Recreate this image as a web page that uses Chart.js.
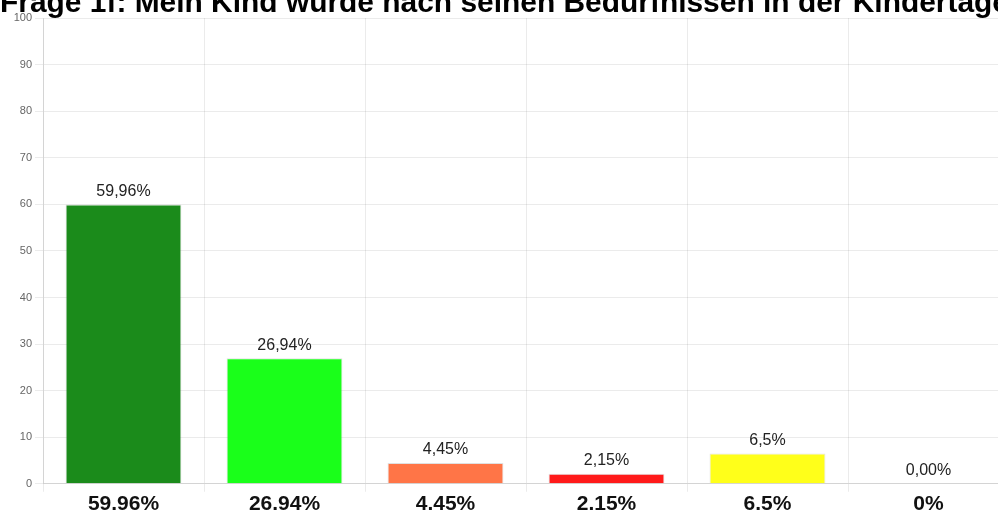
<!DOCTYPE html>
<html>
<head>
<meta charset="utf-8">
<script src="https://cdn.jsdelivr.net/npm/chart.js@4"></script>
<style>
    html, body { margin: 0; padding: 0; overflow: hidden; background: #fff; }
    #wrap { position: absolute; left: 0; top: -15px; width: 1009px; height: 532px; }
</style>
</head>
<body>
<div id="wrap"><canvas id="chart"></canvas></div>
<script>
// chart data
const categories = ['59.96%', '26.94%', '4.45%', '2.15%', '6.5%', '0%'];
const values = [59.96, 26.94, 4.45, 2.15, 6.5, 0];
const valueLabels = ['59,96%', '26,94%', '4,45%', '2,15%', '6,5%', '0,00%'];
const barColors = ['#1b8b1b', '#1aff1a', '#ff7547', '#ff1a1a', '#ffff1a', '#1a8d1a'];
const titleText = 'Frage 1f: Mein Kind wurde nach seinen Bedürfnissen in der Kindertage';

// draws the value text above each bar
const valueLabelPlugin = {
    id: 'valueLabels',
    afterDatasetsDraw(chart) {
        const ctx = chart.ctx;
        const meta = chart.getDatasetMeta(0);
        ctx.save();
        ctx.font = '16px "Liberation Sans", Arial, sans-serif';
        ctx.fillStyle = '#222';
        ctx.textAlign = 'center';
        ctx.textBaseline = 'bottom';
        meta.data.forEach((bar, i) => {
            ctx.fillText(valueLabels[i], bar.x, bar.y - 5);
        });
        ctx.restore();
    }
};

Chart.defaults.font.family = '"Liberation Sans", Arial, sans-serif';

new Chart(document.getElementById('chart').getContext('2d'), {
    type: 'bar',
    data: {
        labels: categories,
        datasets: [{
            data: values,
            backgroundColor: barColors,
            borderColor: 'rgba(0,0,0,0.12)',
            borderWidth: 1
        }]
    },
    options: {
        responsive: true,
        maintainAspectRatio: false,
        animation: false,
        layout: { padding: 0 },
        scales: {
            y: {
                min: 0,
                max: 100,
                afterFit: (scale) => { scale.width = 43; }, // y axis sits at x=43
                ticks: {
                    stepSize: 10,
                    color: '#666',
                    font: { size: 11 }
                },
                grid: { color: 'rgba(0,0,0,0.08)' }
            },
            x: {
                ticks: {
                    color: '#111',
                    padding: 0,
                    font: { size: 21, weight: 'bold' }
                },
                grid: { color: 'rgba(0,0,0,0.08)' }
            }
        },
        plugins: {
            legend: { display: false },
            tooltip: { enabled: false },
            title: {
                display: true,
                text: titleText,
                align: 'start',
                color: '#000',
                padding: { top: 2, bottom: -2 },
                font: { size: 30, weight: 'bold', lineHeight: 1.1 }
            }
        }
    },
    plugins: [valueLabelPlugin]
});
</script>
</body>
</html>
